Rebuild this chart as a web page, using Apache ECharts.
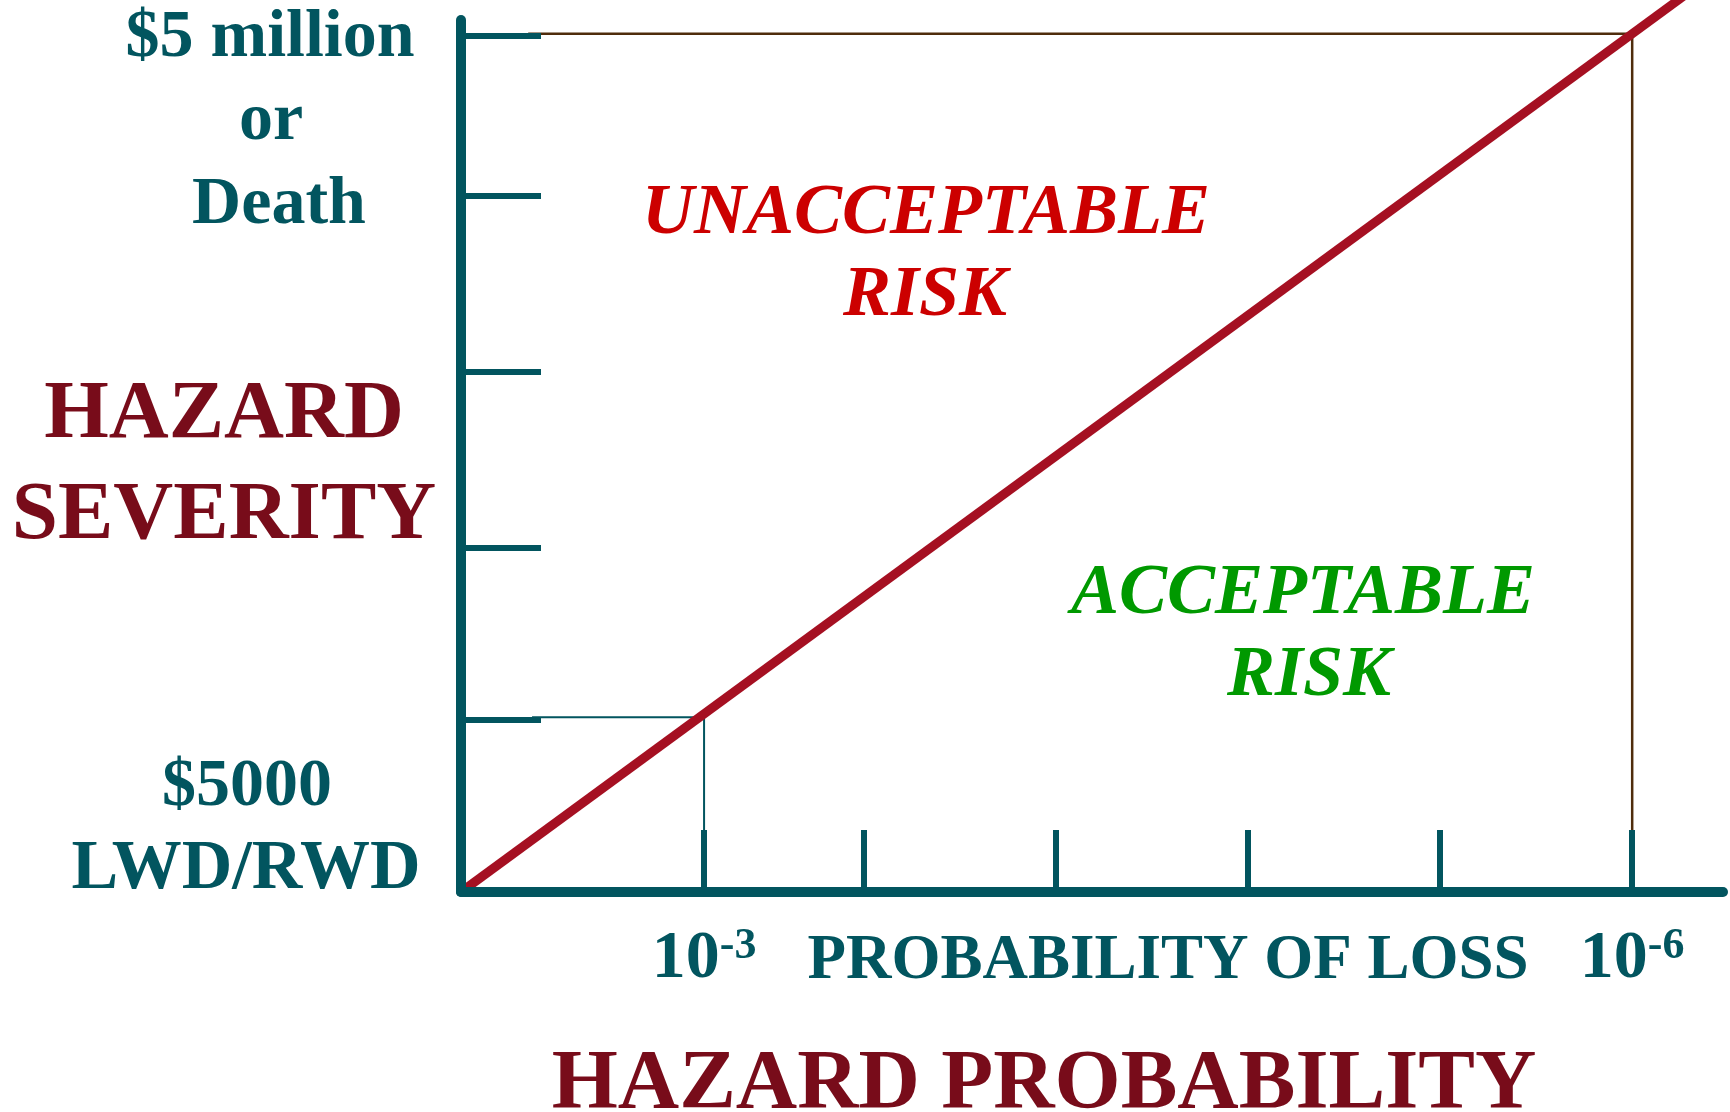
<!DOCTYPE html>
<html>
<head>
<meta charset="utf-8">
<script src="https://cdn.jsdelivr.net/npm/echarts@6/dist/echarts.min.js"></script>
<style>html,body{margin:0;padding:0;background:#fff;}#c{width:1730px;height:1112px;}</style>
</head>
<body>
<div id="c"></div>
<script>
// ---- data ----
const xTicks = [1.266, 2.1, 3.1, 4.1, 5.1, 6.1];          // probability ticks (abstract units)
const yTicks = [0.994, 1.988, 3.006, 4.023, 4.948];       // severity ticks (abstract units)
const xLabelTicks = [1.266, 6.1];
const xLabelBase = ['10', '10'];
const xLabelExp = ['-3', '-6'];
const riskBoundary = [[0, 0], [6.6, 5.367]];
const lowBox = [[0.37, 1.01], [1.266, 1.01], [1.266, 0.358]];
const highBox = [[0.35, 4.96], [6.1, 4.96], [6.1, 0.26]];
const highSeverityLines = ['$5 million', 'or', 'Death'];
const lowSeverityLines = ['$5000', 'LWD/RWD'];
const severityTitle = ['HAZARD', 'SEVERITY'];
const probabilityTitle = 'HAZARD PROBABILITY';
const lossLabel = 'PROBABILITY OF LOSS';
const unacceptable = ['UNACCEPTABLE', 'RISK'];
const acceptable = ['ACCEPTABLE', 'RISK'];

const TEAL = '#02555f';
const FONT = '"Liberation Serif", "DejaVu Serif", serif';

function txt(text, cx, baseline, size, color, italic) {
  return {
    type: 'text', x: cx, y: baseline - 0.25 * size, z: 20,
    style: {
      text: text, fill: color, align: 'center', verticalAlign: 'middle',
      font: (italic ? 'italic ' : '') + 'bold ' + size + 'px ' + FONT
    }
  };
}

const graphics = [
  txt(highSeverityLines[0], 270, 55, 68, TEAL),
  txt(highSeverityLines[1], 271, 138, 68, TEAL),
  txt(highSeverityLines[2], 279, 222, 68, TEAL),
  txt(lowSeverityLines[0], 247, 804, 68, TEAL),
  txt(lowSeverityLines[1], 246, 887, 70, TEAL),
  txt(severityTitle[0], 224, 436, 83, '#780c1a'),
  txt(severityTitle[1], 224, 537, 83, '#780c1a'),
  txt(probabilityTitle, 1044, 1107, 85, '#780c1a'),
  txt(lossLabel, 1168, 977, 63, TEAL),
  txt(unacceptable[0], 926, 232, 72, '#cc0000', true),
  txt(unacceptable[1], 925, 314, 72, '#cc0000', true),
  txt(acceptable[0], 1303, 612, 72, '#009900', true),
  txt(acceptable[1], 1309, 694, 72, '#009900', true)
];

const chart = echarts.init(document.getElementById('c'), null, {renderer: 'canvas'});
chart.setOption({
  backgroundColor: '#ffffff',
  animation: false,
  grid: {left: 461, top: 20, right: 7, bottom: 220, containLabel: false},
  xAxis: {
    type: 'value', min: 0, max: 6.573, z: 10,
    axisLine: {show: true, onZero: false, lineStyle: {color: TEAL, width: 10, cap: 'round'}},
    axisTick: {show: true, inside: true, length: 62, customValues: xTicks, lineStyle: {color: TEAL, width: 6}},
    axisLabel: {
      show: true, customValues: xLabelTicks, margin: 33,
      formatter: function (v) {
        const i = xLabelTicks.indexOf(v);
        return i < 0 ? '' : '{b|' + xLabelBase[i] + '}{s|' + xLabelExp[i] + '}';
      },
      rich: {
        b: {fontSize: 68, fontWeight: 'bold', fontFamily: FONT, color: TEAL, lineHeight: 68},
        s: {fontSize: 44, fontWeight: 'bold', fontFamily: FONT, color: TEAL, verticalAlign: 'top', lineHeight: 44}
      }
    },
    splitLine: {show: false}
  },
  yAxis: {
    type: 'value', min: 0, max: 5.04, z: 10,
    axisLine: {show: true, onZero: false, lineStyle: {color: TEAL, width: 10, cap: 'round'}},
    axisTick: {show: true, inside: true, length: 80, customValues: yTicks, lineStyle: {color: TEAL, width: 6}},
    axisLabel: {show: false},
    splitLine: {show: false}
  },
  series: [
    {type: 'line', data: lowBox, symbol: 'none', clip: false, z: 1,
     lineStyle: {color: TEAL, width: 2}},
    {type: 'line', data: highBox, symbol: 'none', clip: false, z: 1,
     lineStyle: {color: '#4f2c0c', width: 2.5}},
    {type: 'line', data: riskBoundary, symbol: 'none', clip: false, z: 3,
     lineStyle: {color: '#a51022', width: 9}}
  ],
  graphic: graphics
});
</script>
</body>
</html>
